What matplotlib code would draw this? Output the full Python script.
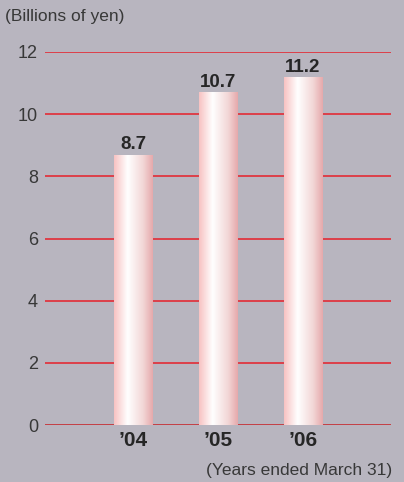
import numpy as np
import matplotlib
matplotlib.use("Agg")
import matplotlib.pyplot as plt
from matplotlib.colors import LinearSegmentedColormap

years = ["’04", "’05", "’06"]
values = [8.7, 10.7, 11.2]
value_labels = ["8.7", "10.7", "11.2"]
yticks = [0, 2, 4, 6, 8, 10, 12]

plt.rcParams['font.family'] = ['Liberation Sans', 'DejaVu Sans']

bg = (0.72, 0.71, 0.75)
fig = plt.figure(figsize=(4.04, 4.82), dpi=100, facecolor=bg)
ax = fig.add_axes([45/404, 1 - 425/482, (391-45)/404, (425-52)/482])
ax.set_facecolor(bg)

x = np.arange(len(years))
width = 0.45
ax.set_xlim(-1.035, 3.035)
ax.set_ylim(0, 12)

for t in yticks:
    ax.axhline(t, color=(0.90, 0.12, 0.16) if t else (0.78, 0.12, 0.14),
               lw=1.1, zorder=1)

cmap = LinearSegmentedColormap.from_list(
    "barshade",
    [(0.0, (0.97, 0.76, 0.76)), (0.35, (1.0, 1.0, 1.0)),
     (0.75, (0.95, 0.84, 0.84)), (1.0, (0.90, 0.66, 0.67))])
grad = np.linspace(0, 1, 256).reshape(1, -1)

bars = ax.bar(x, values, width=width, color="none", zorder=2)
for b, lab in zip(bars, value_labels):
    x0, w, h = b.get_x(), b.get_width(), b.get_height()
    im = ax.imshow(grad, cmap=cmap, aspect="auto", extent=[x0, x0 + w, 0, h],
                   zorder=2, interpolation="bilinear")
    im.set_clip_path(b)
    ax.text(x0 + w/2, h + 0.04, lab, ha="center", va="bottom",
            fontsize=13.5, fontweight="bold", color=(0.15, 0.15, 0.15))

ax.set_xlim(-1.035, 3.035)
ax.set_ylim(0, 12)
ax.set_yticks(yticks)
ax.set_yticklabels([str(t) for t in yticks], fontsize=13, color=(0.22, 0.22, 0.22))
ax.set_xticks(x)
ax.set_xticklabels(years, fontsize=15, fontweight="bold", color=(0.15, 0.15, 0.15))
ax.tick_params(axis="both", length=0)
ax.tick_params(axis="y", pad=5)
ax.tick_params(axis="x", pad=4)
for s in ax.spines.values():
    s.set_visible(False)

fig.text(5/404, 1 - 16/482, "(Billions of yen)", fontsize=12.5,
         color=(0.22, 0.22, 0.22), ha="left", va="center")
fig.text(392/404, 1 - 470/482, "(Years ended March 31)", fontsize=12.5,
         color=(0.22, 0.22, 0.22), ha="right", va="center")

fig.savefig("out.png", dpi=100, facecolor=bg)
